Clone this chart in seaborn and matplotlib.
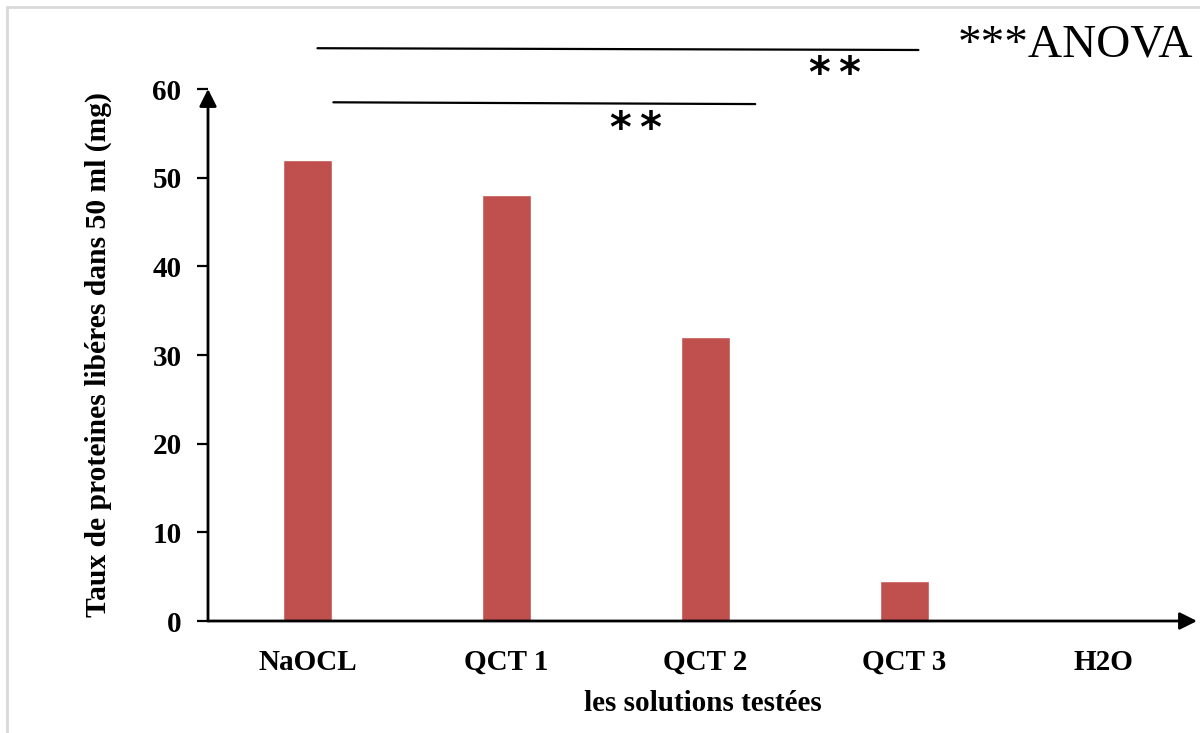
import matplotlib
matplotlib.use("Agg")
import matplotlib.pyplot as plt
import seaborn as sns
import pandas as pd
from matplotlib.patches import Rectangle

# Data
solutions = ["NaOCL", "QCT 1", "QCT 2", "QCT 3", "H2O"]
proteines = [52, 48, 32, 4.5, 0]
yticks = [0, 10, 20, 30, 40, 50, 60]

sns.set_theme(style="white")
plt.rcParams["font.family"] = ["Liberation Serif", "DejaVu Serif"]
plt.rcParams["text.color"] = "black"
plt.rcParams["axes.labelcolor"] = "black"
plt.rcParams["xtick.color"] = "black"
plt.rcParams["ytick.color"] = "black"

df = pd.DataFrame({"solution": solutions, "proteines": proteines})

fig = plt.figure(figsize=(12, 7.33), dpi=100)
ax = fig.add_axes([208 / 1200, 112 / 733, 989 / 1200, 532 / 733])

sns.barplot(data=df, x="solution", y="proteines", order=solutions,
            color="#C0504D", saturation=1, width=0.25, ax=ax)

ax.set_xlim(-0.5, 4.47)
ax.set_ylim(0, 60)
ax.set_yticks(yticks)
ax.set_yticklabels([str(t) for t in yticks], fontsize=21, fontweight="bold")
ax.set_xticks(range(len(solutions)))
ax.set_xticklabels(solutions, fontsize=21, fontweight="bold")
ax.tick_params(axis="y", length=8, width=1.6, color="black", pad=11, left=True)
ax.tick_params(axis="x", length=0, pad=20)

ax.set_xlabel("les solutions testées", fontsize=21, fontweight="bold", labelpad=10)
ax.set_ylabel("Taux de proteines libéres dans 50 ml (mg)", fontsize=21.3,
              fontweight="bold", labelpad=29)

for s in ax.spines.values():
    s.set_visible(False)

# Arrowed axes
arrow = dict(arrowstyle="-|>", lw=2, color="black", mutation_scale=26,
             shrinkA=0, shrinkB=0)
ax.annotate("", xy=(0, 1.0), xytext=(0, 0), xycoords="axes fraction",
            textcoords="axes fraction", arrowprops=arrow, annotation_clip=False)
ax.annotate("", xy=(1.0, 0), xytext=(0, 0), xycoords="axes fraction",
            textcoords="axes fraction", arrowprops=arrow, annotation_clip=False)

# Significance brackets
ax.plot([0.05, 3.07], [64.6, 64.4], color="black", lw=1.6, clip_on=False)
ax.plot([0.13, 2.25], [58.5, 58.3], color="black", lw=1.6, clip_on=False)
stars = "*\u2009*"
ax.text(2.65, 61.6, stars, ha="center", va="center", fontsize=30,
        fontweight="bold", family="DejaVu Sans", clip_on=False)
ax.text(1.65, 55.4, stars, ha="center", va="center", fontsize=30,
        fontweight="bold", family="DejaVu Sans", clip_on=False)
fig.text(958 / 1200, 1 - 45 / 733, "***ANOVA", ha="left", va="center",
         fontsize=34)

# Light frame around the figure
fig.patches.append(Rectangle((7 / 1200, -0.05), 1.2, 1 - 7 / 733 + 0.05,
                             transform=fig.transFigure, fill=False,
                             edgecolor="#d9d9d9", lw=2))

fig.savefig("out.png", dpi=100)
